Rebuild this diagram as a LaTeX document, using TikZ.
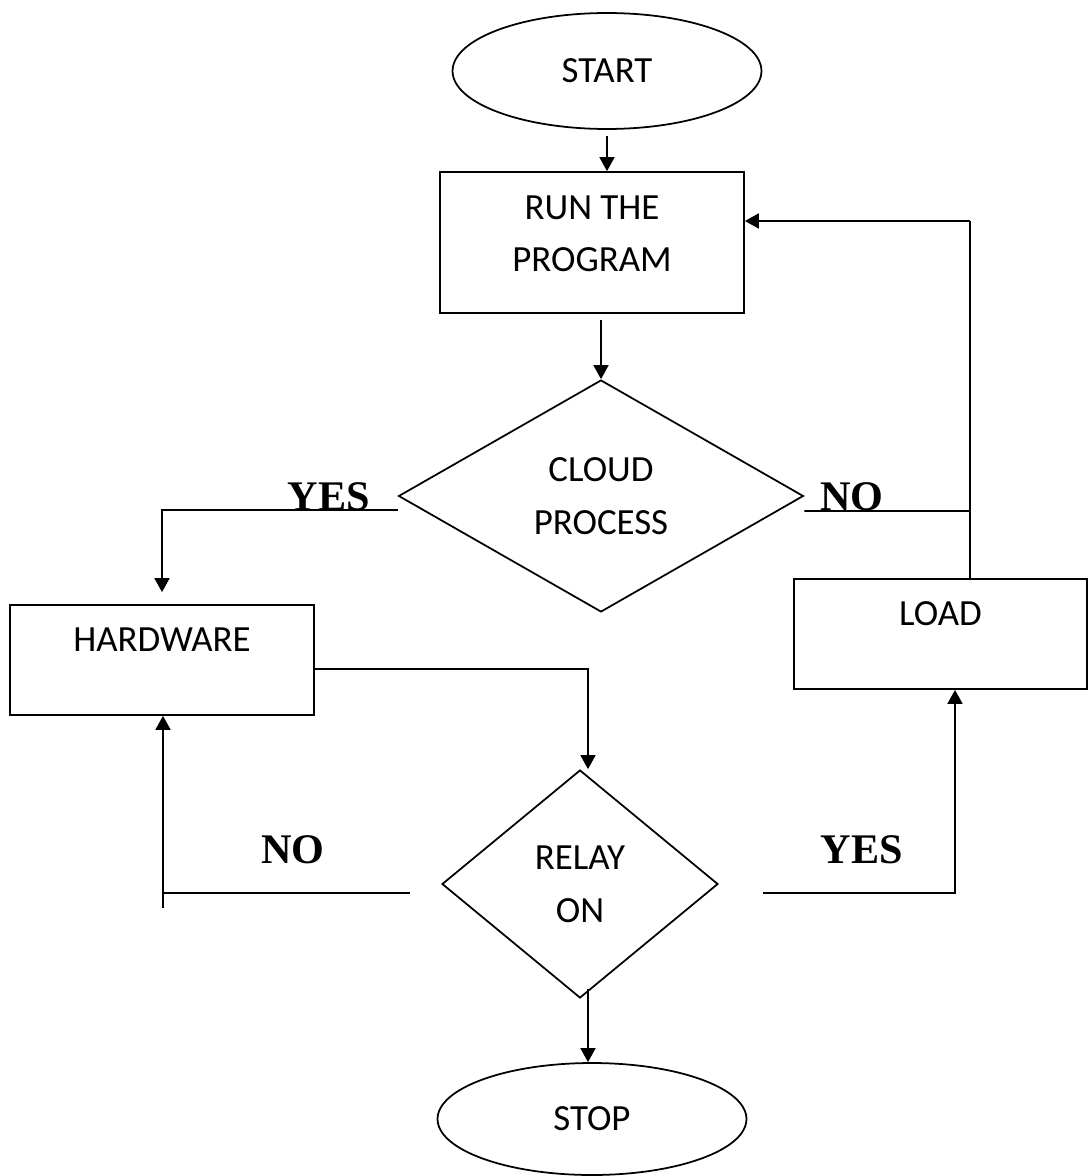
\documentclass[tikz,border=0pt]{standalone}
\usepackage{fontspec}
\setmainfont{Carlito}
\newfontfamily\answerfont{Liberation Serif}
\usetikzlibrary{shapes.geometric,arrows.meta}

\tikzset{
    startstop/.style={ellipse, draw, line width=1pt, minimum width=6.18cm, minimum height=2.32cm, font=\fontsize{21}{30}\selectfont},
    procbox/.style={rectangle, draw, line width=1pt, minimum width=6.08cm, align=center, font=\fontsize{21}{30}\selectfont},
    decision/.style={diamond, draw, line width=1pt, inner sep=0pt, align=center, font=\fontsize{21}{30}\selectfont},
    flow/.style={line width=1pt},
    flowarrow/.style={line width=1pt, -{Triangle[length=0.28cm, width=0.3cm]}},
    answer/.style={font=\answerfont\bfseries\fontsize{24}{24}\selectfont, inner sep=0pt, anchor=base},
}

\begin{document}
\begin{tikzpicture}[x=0.02cm, y=-0.02cm]
        \useasboundingbox (0,0) rectangle (1088,1176);

        % --- blocks ---
        \node[startstop] (start) at (607,71) {START};
        \node[procbox, minimum height=2.82cm] (run) at (592,242.5) {RUN THE\\PROGRAM\\[-20pt]\mbox{}};
        \node[decision, minimum width=8.1cm, minimum height=4.64cm] (cloud) at (601,496) {CLOUD\\PROCESS};
        \node[procbox, minimum height=2.2cm] (hw) at (162,660) {HARDWARE\\[-7pt]\mbox{}};
        \node[procbox, minimum width=5.86cm, minimum height=2.2cm] (load) at (940.5,634) {LOAD\\[-7pt]\mbox{}};
        \node[decision, minimum width=5.52cm, minimum height=4.56cm] (relay) at (580,884) {RELAY\\ON};
        \node[startstop, minimum height=2.24cm] (stop) at (592,1119) {STOP};

        % --- answers ---
        \node[answer] (yesA) at (329,510) {YES};
        \node[answer] (noA) at (852,510) {NO};
        \node[answer] (noB) at (293,863) {NO};
        \node[answer] (yesB) at (862,863) {YES};

        % --- helper points ---
        \coordinate (jn) at (970,511);
        \coordinate (back) at (970,221);
        \coordinate (noL) at (410,893);
        \coordinate (noC) at (163,908);
        \coordinate (yesR) at (763,893);
        \coordinate (yesC) at (955,893);
        \coordinate (rs) at (588,989);

        % --- main line ---
        \draw[flowarrow, shorten <=0.12cm] (start.south) -- (start.south |- run.north);
        \draw[flowarrow, shorten <=0.12cm] (cloud.north |- run.south) -- (cloud.north);

        % cloud process: yes / no
        \draw[flowarrow, shorten >=0.24cm] ([yshift=-0.28cm]cloud.west) -| (hw.north);
        \draw[flow] ([yshift=-0.3cm]cloud.east) -- (jn);
        \draw[flow] (load.north -| jn) -- (back);
        \draw[flowarrow] (back) -- (back -| run.east);

        % hardware to relay
        \draw[flowarrow] ([yshift=-0.18cm]hw.east) -| ([xshift=0.16cm]relay.north);

        % relay: no / yes
        \draw[flow] (noL) -- (noL -| noC);
        \draw[flowarrow] (noC) -- (noC |- hw.south);
        \draw[flowarrow] (yesR) -- (yesC) -- (yesC |- load.south);

        % --- end ---
        \draw[flowarrow] (rs) -- (rs |- stop.north);

    \end{tikzpicture}
\end{document}
